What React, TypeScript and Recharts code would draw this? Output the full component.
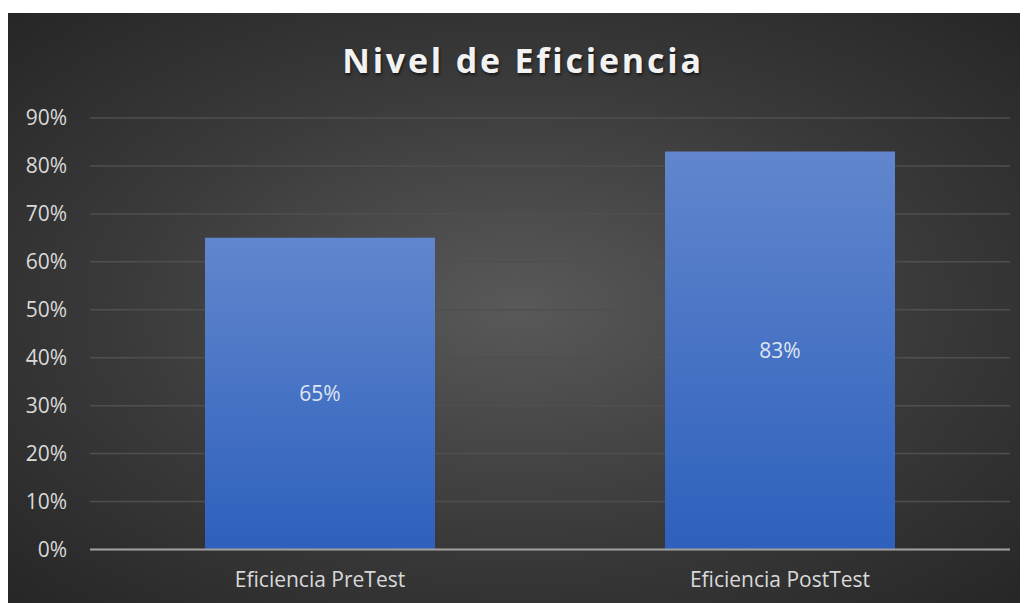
import React from "react";
import { BarChart, Bar, XAxis, YAxis, CartesianGrid, LabelList } from "recharts";

const categories = ["Eficiencia PreTest", "Eficiencia PostTest"];
const values = [0.65, 0.83];
const yTicks = [0, 0.1, 0.2, 0.3, 0.4, 0.5, 0.6, 0.7, 0.8, 0.9];
const title = "Nivel de Eficiencia";

const data = categories.map((name, i) => ({ name, value: values[i] }));
const pct = (v: number) => `${Math.round(v * 100)}%`;
const FONT = "'Open Sans', 'Noto Sans', sans-serif";

export default function App() {
  return (
    <div
      style={{
        position: "relative",
        width: 1020,
        height: 590,
        marginTop: 5,
        background: "radial-gradient(ellipse at 50% 50%, #595959 0%, #3a3a3a 55%, #262626 100%)",
        fontFamily: FONT,
      }}
    >
      <div
        style={{
          position: "absolute",
          left: 0,
          top: 24,
          width: 1030,
          textAlign: "center",
          color: "#f2f2f2",
          fontSize: 34,
          fontWeight: 700,
          letterSpacing: 2.8,
          textShadow: "1px 2px 3px rgba(0,0,0,0.6)",
          fontFamily: FONT,
        }}
      >
        {title}
      </div>
      <BarChart
        width={1020}
        height={590}
        data={data}
        margin={{ top: 105, right: 18, left: 0, bottom: 23.5 }}
        barCategoryGap="25%"
        style={{ position: "absolute", left: 0, top: 0 }}
      >
        <defs>
          <linearGradient id="barGrad" x1="0" y1="0" x2="0" y2="1">
            <stop offset="0%" stopColor="#6186cd" />
            <stop offset="100%" stopColor="#2e60bc" />
          </linearGradient>
        </defs>
        <CartesianGrid vertical={false} stroke="#4f4f4f" strokeWidth={1.5} />
        <XAxis
          dataKey="name"
          height={30}
          axisLine={{ stroke: "#a0a0a0", strokeWidth: 2 }}
          tickLine={false}
          tickSize={0}
          tickMargin={23}
          tick={{ fill: "#d9d9d9", fontSize: 21, fontFamily: FONT }}
        />
        <YAxis
          width={82}
          domain={[0, 0.9]}
          ticks={yTicks}
          tickFormatter={pct}
          axisLine={false}
          tickLine={false}
          tickSize={0}
          tickMargin={23}
          tick={{ fill: "#d9d9d9", fontSize: 21, fontFamily: FONT }}
        />
        <Bar dataKey="value" fill="url(#barGrad)" isAnimationActive={false}>
          <LabelList
            dataKey="value"
            position="center"
            formatter={(v: any) => pct(Number(v))}
            fill="#dfe6f2"
            fontSize={21}
            fontFamily={FONT}
          />
        </Bar>
      </BarChart>
    </div>
  );
}
